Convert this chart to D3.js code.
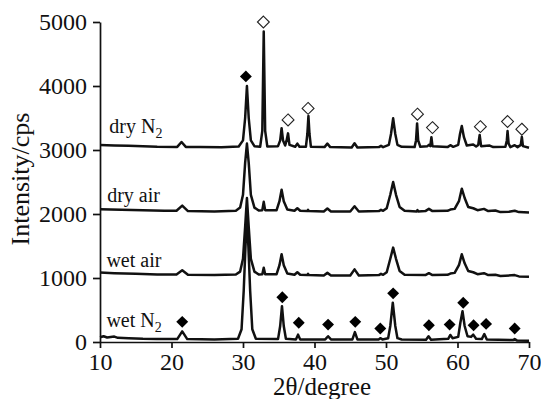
<!DOCTYPE html>
<html>
<head>
<meta charset="utf-8">
<script src="https://cdn.jsdelivr.net/npm/d3@7"></script>
<style>
  html, body { margin: 0; padding: 0; background: #fff; }
  svg { display: block; }
  text { font-family: "Liberation Serif", "Times New Roman", serif; fill: #111; }
</style>
</head>
<body>
<svg id="chart" width="541" height="399"></svg>
<script>
// ---- data (2θ in degrees, intensity in cps) ----
const xTicks = [10, 20, 30, 40, 50, 60, 70];
const yTicks = [0, 1000, 2000, 3000, 4000, 5000];

const dryN2 = [[10,3080],[12,3072],[14,3068],[16,3060],[18,3052],[20.8,3048],[21.4,3125],[22.0,3048],[24,3045],[27,3042],[29.4,3055],[30.0,3150],[30.3,3500],[30.55,4000],[30.8,3500],[31.1,3150],[31.6,3060],[32.4,3050],[32.7,3300],[32.9,4850],[33.1,3300],[33.4,3055],[34.9,3060],[35.2,3150],[35.4,3340],[35.6,3150],[35.9,3070],[36.1,3150],[36.3,3260],[36.5,3080],[37.3,3050],[37.6,3100],[37.9,3050],[38.8,3050],[39.0,3250],[39.15,3530],[39.3,3250],[39.5,3050],[41.4,3045],[41.8,3100],[42.2,3045],[45.2,3040],[45.6,3105],[46.0,3040],[49.0,3045],[49.3,3065],[49.6,3045],[50.4,3080],[50.7,3250],[51.0,3495],[51.3,3250],[51.6,3080],[52.2,3050],[54.0,3045],[54.2,3150],[54.35,3415],[54.5,3150],[54.8,3050],[55.8,3060],[56.0,3080],[56.2,3060],[56.35,3200],[56.5,3060],[58.6,3045],[59.0,3075],[59.4,3050],[60.1,3080],[60.35,3250],[60.6,3375],[60.9,3200],[61.3,3070],[62.2,3085],[62.6,3055],[62.9,3080],[63.1,3235],[63.3,3060],[64.5,3070],[65,3045],[66.7,3050],[66.9,3150],[67.0,3295],[67.15,3100],[67.4,3045],[68.0,3075],[68.4,3045],[68.85,3080],[69.0,3205],[69.15,3060],[70,3035]];

const dryAir = [[10,2075],[13,2068],[16,2060],[19,2050],[20.7,2050],[21.5,2130],[22.3,2045],[26,2040],[29,2050],[29.6,2100],[30.0,2300],[30.3,2800],[30.55,3100],[30.8,2800],[31.1,2300],[31.6,2100],[32.2,2055],[32.7,2060],[32.9,2190],[33.1,2060],[34.7,2060],[35.1,2200],[35.4,2380],[35.7,2200],[36.2,2070],[37.2,2050],[37.6,2090],[38.0,2050],[39.0,2045],[39.1,2065],[39.2,2045],[41.3,2040],[41.8,2085],[42.3,2040],[45.0,2040],[45.6,2120],[46.2,2040],[49.0,2045],[49.3,2065],[49.6,2050],[50.1,2090],[50.6,2300],[51.0,2500],[51.4,2300],[51.9,2110],[52.6,2050],[54.3,2040],[54.4,2060],[54.5,2040],[55.5,2045],[56.0,2080],[56.5,2045],[58.6,2050],[59.0,2070],[59.6,2080],[60.2,2200],[60.6,2395],[61.0,2250],[61.5,2110],[62.2,2090],[62.8,2060],[63.7,2080],[64.3,2045],[65.3,2055],[66,2030],[67.2,2035],[68,2050],[68.6,2030],[70,2025]];

const wetAir = [[10,1085],[12,1075],[15,1065],[18,1055],[20.7,1055],[21.5,1120],[22.3,1050],[26,1045],[29,1055],[29.6,1100],[30.0,1300],[30.3,1800],[30.55,2250],[30.8,1800],[31.1,1300],[31.6,1100],[32.2,1055],[32.7,1060],[32.9,1160],[33.1,1060],[34.7,1060],[35.1,1200],[35.4,1370],[35.7,1200],[36.2,1070],[37.2,1050],[37.6,1090],[38.0,1050],[39.0,1045],[39.1,1065],[39.2,1045],[41.3,1040],[41.8,1080],[42.3,1040],[45.0,1040],[45.6,1135],[46.2,1040],[49.0,1045],[49.3,1065],[49.6,1050],[50.1,1090],[50.6,1300],[51.0,1475],[51.4,1300],[51.9,1110],[52.6,1050],[55.5,1045],[56.0,1075],[56.5,1045],[58.6,1050],[59.0,1070],[59.6,1080],[60.2,1200],[60.6,1370],[61.0,1230],[61.5,1110],[62.2,1090],[62.8,1060],[63.7,1075],[64.3,1045],[65.3,1050],[66,1030],[68,1045],[68.6,1025],[70,1020]];

const wetN2 = [[10,75],[10.5,90],[11,70],[12,85],[12.5,65],[14,60],[16,50],[18,45],[20.8,45],[21.5,165],[22.2,45],[26,40],[29.3,50],[29.8,200],[30.1,800],[30.35,1500],[30.55,1950],[30.75,1500],[31.0,800],[31.3,200],[31.8,50],[34.9,45],[35.2,250],[35.45,560],[35.7,250],[36.0,50],[37.4,40],[37.7,115],[38.0,40],[41.5,40],[41.9,90],[42.3,40],[45.3,40],[45.65,155],[46.0,40],[49.0,40],[49.2,60],[49.5,40],[50.3,60],[50.6,250],[50.95,615],[51.3,250],[51.6,60],[52.2,40],[55.6,35],[55.95,90],[56.3,35],[58.7,50],[59.0,110],[59.3,60],[60.1,80],[60.4,300],[60.7,480],[61.0,250],[61.4,90],[61.9,80],[62.2,115],[62.6,50],[63.4,45],[63.75,125],[64.1,40],[67.8,30],[68.0,45],[68.3,25],[70,20]];

const series = [dryN2, dryAir, wetAir, wetN2];

// open diamonds (dry N2 phase) and filled diamonds (main phase)
const openMarkX = [32.85, 36.3, 39.1, 54.4, 56.5, 63.2, 67.0, 69.0];
const openMarkY = [5000, 3470, 3650, 3560, 3350, 3365, 3445, 3325];
const filledMarkX = [30.4, 21.5, 35.5, 37.8, 41.9, 45.7, 49.2, 51.0, 56.0, 58.9, 60.8, 62.25, 64.0, 68.0];
const filledMarkY = [4150, 315, 700, 300, 272, 315, 210, 760, 262, 272, 613, 262, 283, 210];

// series labels
const labelText = ["dry N", "dry air", "wet air", "wet N"];
const labelSub = ["2", "", "", "2"];
const labelX = [11.3, 11.0, 10.9, 10.9];
const labelY = [3266, 2190, 1177, 239];

// ---- drawing ----
const svg = d3.select("#chart");
const x = d3.scaleLinear().domain([10, 70]).range([100, 529]);
const y = d3.scaleLinear().domain([0, 5000]).range([342, 22]);

const line = d3.line().x(d => x(d[0])).y(d => y(d[1]));

svg.append("g").selectAll("path").data(series).join("path")
  .attr("d", line)
  .attr("fill", "none")
  .attr("stroke", "#111")
  .attr("stroke-width", 2.5)
  .attr("stroke-linejoin", "round");

const diamond = d3.symbol().type(d3.symbolDiamond2).size(90);
svg.append("g").selectAll("path").data(openMarkX).join("path")
  .attr("d", diamond)
  .attr("transform", (d, i) => `translate(${x(d)},${y(openMarkY[i])})`)
  .attr("fill", "#fff").attr("stroke", "#222").attr("stroke-width", 1.1);

svg.append("g").selectAll("path").data(filledMarkX).join("path")
  .attr("d", diamond)
  .attr("transform", (d, i) => `translate(${x(d)},${y(filledMarkY[i])})`)
  .attr("fill", "#000");

// axes
const gx = svg.append("g").attr("transform", "translate(0,342)")
  .call(d3.axisBottom(x).tickValues(xTicks).tickFormat(d3.format("d"))
    .tickSize(6).tickSizeOuter(0).tickPadding(5));
const gy = svg.append("g").attr("transform", "translate(100,0)")
  .call(d3.axisLeft(y).tickValues(yTicks).tickFormat(d3.format("d"))
    .tickSize(7).tickSizeOuter(0).tickPadding(6));
[gx, gy].forEach(g => {
  g.selectAll("path,line").attr("stroke", "#111").attr("stroke-width", 1.7);
  g.selectAll("text").style("font-family", '"Liberation Serif", "Times New Roman", serif')
    .style("font-size", "24px").attr("fill", "#111");
});

// series labels
labelText.forEach((t, i) => {
  const tx = svg.append("text")
    .attr("x", x(labelX[i])).attr("y", y(labelY[i]))
    .style("font-size", "20px").text(t);
  if (labelSub[i]) {
    tx.append("tspan").attr("dy", 5).style("font-size", "14px").text(labelSub[i]);
  }
});

// axis titles
svg.append("text")
  .attr("x", 322).attr("y", 395)
  .attr("text-anchor", "middle")
  .style("font-size", "25px")
  .text("2θ/degree");

svg.append("text")
  .attr("transform", "translate(29,179) rotate(-90)")
  .attr("text-anchor", "middle")
  .style("font-size", "26px")
  .text("Intensity/cps");
</script>
</body>
</html>
